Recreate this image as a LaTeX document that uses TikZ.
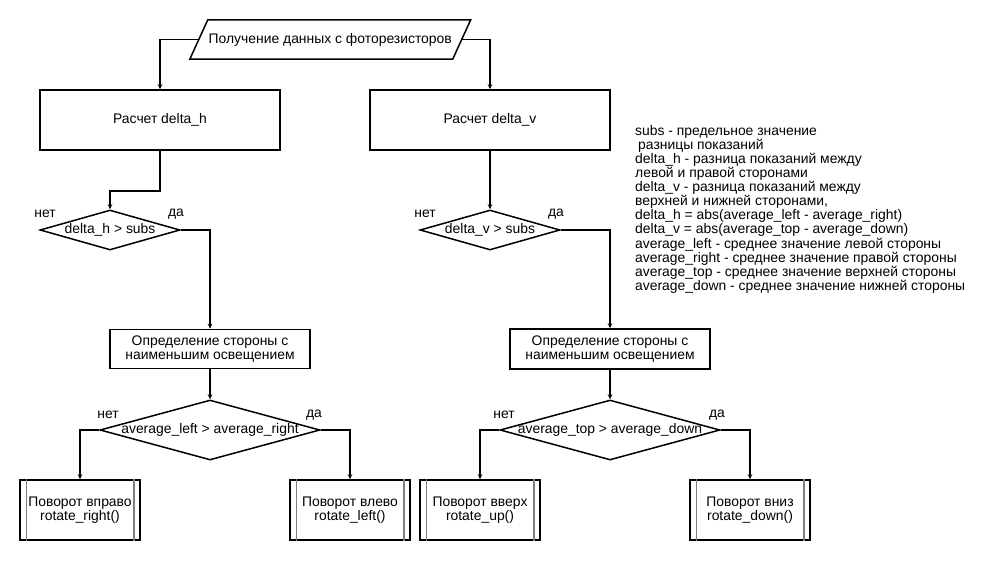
\documentclass[tikz,border=0pt]{standalone}
\usepackage{fontspec}
\setmainfont{Liberation Sans}
\usetikzlibrary{arrows.meta,shapes.geometric,calc}

\tikzset{
  every node/.style={font=\fontsize{13.9}{14.1}\selectfont, inner sep=0pt},
  line/.style={line width=1.5pt, draw=black},
  flow/.style={line, -{Stealth[length=5pt,width=4.5pt]}},
  procbox/.style={line, rectangle, align=center},
  subbox/.style={procbox, minimum width=120pt, minimum height=60pt},
  decision/.style={line, diamond, inner sep=0pt},
  inner/.style={line width=1.5pt, draw=gray},
  ans/.style={}
}

\begin{document}
\begin{tikzpicture}[x=1pt, y=-1pt]
\useasboundingbox (0,0) rectangle (1000,560);
\fill[white] (0,0) rectangle (1000,560);

% input (parallelogram)
\node (in) [minimum width=262.5pt, minimum height=39pt] at (330.25,39.5)
  {Получение данных с фоторезисторов};
\draw[line] ($(in.north west)+(9,0)$) -- ($(in.north east)+(9,0)$)
  -- ($(in.south east)+(-9,0)$) -- ($(in.south west)+(-9,0)$) -- cycle;

% computation boxes
\node (b1) [procbox, minimum width=240pt, minimum height=60pt] at (160,120) {Расчет delta\_h};
\node (b2) [procbox, minimum width=240pt, minimum height=60pt] at (490,120) {Расчет delta\_v};

% threshold decisions
\node (d1) [decision, minimum width=140pt, minimum height=40pt] at (110,230) {};
\node at (d1) {delta\_h > subs};
\node (d2) [decision, minimum width=140pt, minimum height=40pt] at (490,230) {};
\node at (d2) {delta\_v > subs};

% side detection
\node (b3) [procbox, minimum width=200pt, minimum height=39pt] at (210,349)
  {Определение стороны с\\наименьшим освещением};
\node (b4) [procbox, minimum width=200pt, minimum height=40pt] at (610,349)
  {Определение стороны с\\наименьшим освещением};

% comparison decisions
\node (d3) [decision, minimum width=220pt, minimum height=60pt] at (210,430) {};
\node at (d3) {average\_left > average\_right};
\node (d4) [decision, minimum width=220pt, minimum height=60pt] at (610,430) {};
\node at (d4) {average\_top > average\_down};

% rotation subroutines
\node (b5) [subbox] at (80,510)  {Поворот вправо\\rotate\_right()};
\node (b6) [subbox] at (350,510) {Поворот влево\\rotate\_left()};
\node (b7) [subbox] at (480,510) {Поворот вверх\\rotate\_up()};
\node (b8) [subbox] at (750,510) {Поворот вниз\\rotate\_down()};
\foreach \b in {b5,b6,b7,b8}{
  \draw[inner] ([xshift=7pt]\b.north west) -- ([xshift=7pt]\b.south west);
  \draw[inner] ([xshift=-7pt]\b.north east) -- ([xshift=-7pt]\b.south east);
}

% branch labels
\node (n1) [ans] at (45,214) {нет};
\node (y1) [ans] at (176,214) {да};
\node (n2) [ans] at (425,214) {нет};
\node (y2) [ans] at (556,214) {да};
\node (n3) [ans] at (108,415) {нет};
\node (y3) [ans] at (314,415) {да};
\node (n4) [ans] at (504,415) {нет};
\node (y4) [ans] at (717,415) {да};

% legend
\node (legend) [anchor=north west, align=left] at (635,125)
  {subs - предельное значение\\
   \hspace{3pt}разницы показаний\\
   delta\_h - разница показаний между\\
   левой и правой сторонами\\
   delta\_v - разница показаний между\\
   верхней и нижней сторонами,\\
   delta\_h = abs(average\_left - average\_right)\\
   delta\_v = abs(average\_top - average\_down)\\
   average\_left - среднее значение левой стороны\\
   average\_right - среднее значение правой стороны\\
   average\_top - среднее значение верхней стороны\\
   average\_down - среднее значение нижней стороны};

% connectors
\draw[flow] (in.west) -| (b1.north);
\draw[flow] (in.east) -| (b2.north);
\draw[flow] (b1.south) -- ++(0,40) -| (d1.north);
\draw[flow] (b2.south) -- (d2.north);
\draw[flow] (d1.east) -| (b3.north);
\draw[flow] (d2.east) -| (b4.north);
\draw[flow] (b3.south) -- (d3.north);
\draw[flow] (b4.south) -- (d4.north);
\draw[flow] (d3.west) -| (b5.north);
\draw[flow] (d3.east) -| (b6.north);
\draw[flow] (d4.west) -| (b7.north);
\draw[flow] (d4.east) -| (b8.north);
\end{tikzpicture}
\end{document}
